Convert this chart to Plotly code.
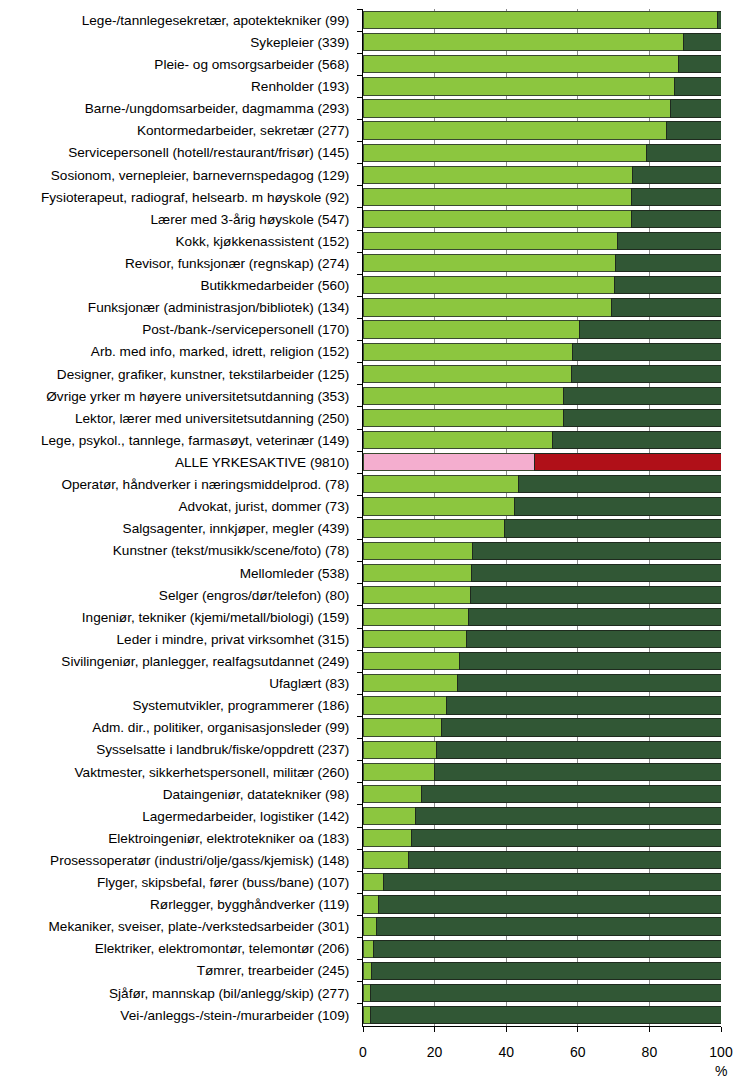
import plotly.graph_objects as go

categories = [
    "Lege-/tannlegesekretær, apotektekniker (99)",
    "Sykepleier (339)",
    "Pleie- og omsorgsarbeider (568)",
    "Renholder (193)",
    "Barne-/ungdomsarbeider, dagmamma (293)",
    "Kontormedarbeider, sekretær (277)",
    "Servicepersonell (hotell/restaurant/frisør) (145)",
    "Sosionom, vernepleier, barnevernspedagog (129)",
    "Fysioterapeut, radiograf, helsearb. m høyskole (92)",
    "Lærer med 3-årig høyskole (547)",
    "Kokk, kjøkkenassistent (152)",
    "Revisor, funksjonær (regnskap) (274)",
    "Butikkmedarbeider (560)",
    "Funksjonær (administrasjon/bibliotek) (134)",
    "Post-/bank-/servicepersonell (170)",
    "Arb. med info, marked, idrett, religion (152)",
    "Designer, grafiker, kunstner, tekstilarbeider (125)",
    "Øvrige yrker m høyere universitetsutdanning (353)",
    "Lektor, lærer med universitetsutdanning (250)",
    "Lege, psykol., tannlege, farmasøyt, veterinær (149)",
    "ALLE YRKESAKTIVE (9810)",
    "Operatør, håndverker i næringsmiddelprod. (78)",
    "Advokat, jurist, dommer (73)",
    "Salgsagenter, innkjøper, megler (439)",
    "Kunstner (tekst/musikk/scene/foto) (78)",
    "Mellomleder (538)",
    "Selger (engros/dør/telefon) (80)",
    "Ingeniør, tekniker (kjemi/metall/biologi) (159)",
    "Leder i mindre, privat virksomhet (315)",
    "Sivilingeniør, planlegger, realfagsutdannet (249)",
    "Ufaglært (83)",
    "Systemutvikler, programmerer (186)",
    "Adm. dir., politiker, organisasjonsleder (99)",
    "Sysselsatte i landbruk/fiske/oppdrett (237)",
    "Vaktmester, sikkerhetspersonell, militær (260)",
    "Dataingeniør, datatekniker (98)",
    "Lagermedarbeider, logistiker (142)",
    "Elektroingeniør, elektrotekniker oa (183)",
    "Prosessoperatør (industri/olje/gass/kjemisk) (148)",
    "Flyger, skipsbefal, fører (buss/bane) (107)",
    "Rørlegger, bygghåndverker (119)",
    "Mekaniker, sveiser, plate-/verkstedsarbeider (301)",
    "Elektriker, elektromontør, telemontør (206)",
    "Tømrer, trearbeider (245)",
    "Sjåfør, mannskap (bil/anlegg/skip) (277)",
    "Vei-/anleggs-/stein-/murarbeider (109)",
]

share_values = [
    99.1, 89.4, 88.0, 87.1, 85.8, 84.9, 79.2, 75.3, 75.0, 75.0,
    71.0, 70.5, 70.3, 69.4, 60.5, 58.6, 58.3, 56.1, 56.0, 53.0,
    47.8, 43.5, 42.4, 39.4, 30.7, 30.2, 30.0, 29.5, 28.9, 26.9,
    26.5, 23.2, 22.0, 20.6, 20.1, 16.4, 14.7, 13.6, 12.8, 5.6,
    4.2, 3.9, 2.8, 2.5, 2.2, 2.0,
]
rest_values = [round(100 - v, 1) for v in share_values]

tick_values = [0, 20, 40, 60, 80, 100]
total_label = "ALLE YRKESAKTIVE (9810)"

light_colors = ["#F4AECF" if c == total_label else "#8CC63F" for c in categories]
dark_colors = ["#B01018" if c == total_label else "#315735" for c in categories]

FONT = "Liberation Sans, Arial, sans-serif"

fig = go.Figure()
fig.add_trace(go.Bar(
    y=categories, x=share_values, orientation="h",
    marker=dict(color=light_colors, line=dict(color="#3a4a30", width=1)),
    hoverinfo="x+y", showlegend=False,
))
fig.add_trace(go.Bar(
    y=categories, x=rest_values, orientation="h",
    marker=dict(color=dark_colors, line=dict(color="#1e2a1e", width=1)),
    hoverinfo="x+y", showlegend=False,
))

fig.update_layout(
    barmode="stack",
    bargap=0.22,
    width=738, height=1080,
    margin=dict(l=363, r=17, t=9, b=54, autoexpand=False),
    paper_bgcolor="white", plot_bgcolor="white",
    font=dict(family=FONT, size=13.6, color="black"),
    xaxis=dict(
        range=[0, 100], tickvals=tick_values, ticks="outside", ticklen=5,
        tickcolor="black", showline=True, linecolor="black", linewidth=1,
        showgrid=True, gridcolor="#8a8a8a", gridwidth=1, zeroline=False,
        tickfont=dict(size=14), fixedrange=True, automargin=False,
        ticklabelstandoff=8,
    ),
    yaxis=dict(
        autorange="reversed", categoryorder="array", categoryarray=categories,
        ticks="outside", ticklen=5, tickson="boundaries", tickcolor="black",
        showline=True, linecolor="black", linewidth=1, showgrid=False,
        tickfont=dict(size=13.6), fixedrange=True, automargin=False,
        ticklabelstandoff=10,
    ),
    annotations=[dict(
        text="%", x=1, y=0, xref="paper", yref="paper", xanchor="center",
        yanchor="top", yshift=-35, showarrow=False, font=dict(size=14),
    )],
)

fig.write_html(
    "out.html",
    config={"displayModeBar": False},
    post_script="document.body.style.margin='0';document.body.style.overflow='hidden';",
)
